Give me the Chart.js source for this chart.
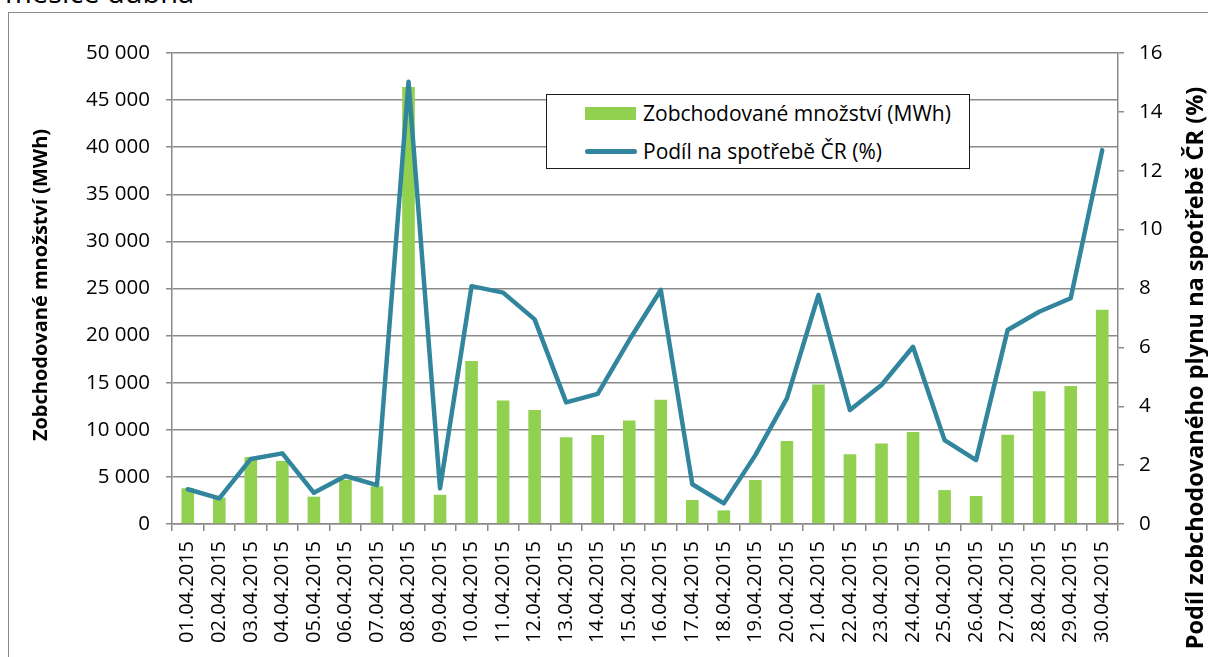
<!DOCTYPE html>
<html>
<head>
<meta charset="utf-8">
<script src="https://cdn.jsdelivr.net/npm/chart.js@4"></script>
<style>
  html, body { margin: 0; padding: 0; background: #fff; overflow: hidden; }
  #wrap { position: relative; width: 1208px; height: 657px; }
  #frame { position: absolute; left: 8px; top: 12px; width: 1300px; height: 800px; border: 1.5px solid #8a8a8a; box-sizing: border-box; }
  #caption { position: absolute; left: 5px; top: -23px; font: 29px/1 "Open Sans", sans-serif; color: #000; white-space: nowrap; }
  #legend { position: absolute; left: 546px; top: 94px; width: 424px; height: 75px; border: 1.5px solid #1a1a1a; box-sizing: border-box; background: #fff; font: 21px "Open Sans", sans-serif; color: #000; }
  .item { position: absolute; left: 38px; height: 28px; line-height: 28px; white-space: nowrap; }
  .item span { position: absolute; left: 58px; top: 0; }
  .bar { position: absolute; left: 0; top: 8px; width: 51px; height: 13px; background: #92D050; }
  .line { position: absolute; left: 0; top: 12px; width: 52px; height: 5px; border-radius: 3px; background: #31859C; }
  canvas { position: absolute; left: 0; top: 0; }
</style>
</head>
<body>
<div id="wrap">
  <div id="frame"></div>
  <div id="caption">měsíce dubna</div>
  <canvas id="chart" width="1208" height="657"></canvas>
  <div id="legend">
    <div class="item" style="top: 4px;"><div class="bar"></div><span>Zobchodované množství (MWh)</span></div>
    <div class="item" style="top: 42px;"><div class="line"></div><span>Podíl na spotřebě ČR (%)</span></div>
  </div>
</div>
<script>
// Days of April 2015
const days = ["01.04.2015", "02.04.2015", "03.04.2015", "04.04.2015", "05.04.2015", "06.04.2015",
  "07.04.2015", "08.04.2015", "09.04.2015", "10.04.2015", "11.04.2015", "12.04.2015", "13.04.2015",
  "14.04.2015", "15.04.2015", "16.04.2015", "17.04.2015", "18.04.2015", "19.04.2015", "20.04.2015",
  "21.04.2015", "22.04.2015", "23.04.2015", "24.04.2015", "25.04.2015", "26.04.2015", "27.04.2015",
  "28.04.2015", "29.04.2015", "30.04.2015"];

// Traded volume (MWh)
const tradedMWh = [3800, 2800, 7100, 6700, 2900, 4700, 4000, 46400, 3100, 17300,
  13100, 12100, 9200, 9450, 11000, 13200, 2550, 1450, 4670, 8800,
  14800, 7400, 8550, 9770, 3600, 2970, 9480, 14100, 14650, 22750];

// Share of Czech consumption (%)
const sharePct = [1.18, 0.87, 2.21, 2.40, 1.06, 1.63, 1.32, 15.02, 1.21, 8.08,
  7.86, 6.95, 4.13, 4.42, 6.25, 7.95, 1.35, 0.70, 2.34, 4.27,
  7.78, 3.87, 4.72, 6.02, 2.85, 2.17, 6.59, 7.21, 7.67, 12.7];

const leftTitle = "Zobchodované množství (MWh)";
const rightTitle = "Podíl zobchodovaného plynu na spotřebě ČR (%)";

const gridColor = "#8a8a8a";
const labelFont = { family: "'Open Sans', sans-serif", size: 20.5 };

// draw the rotated axis titles ourselves (both read bottom to top)
const axisTitles = {
  id: "axisTitles",
  afterDraw(chart) {
    const ctx = chart.ctx;
    const drawTitle = (text, x, y, size) => {
      ctx.save();
      ctx.fillStyle = "#000";
      ctx.font = "bold " + size + "px 'Open Sans', sans-serif";
      ctx.textAlign = "center";
      ctx.textBaseline = "middle";
      ctx.translate(x, y);
      ctx.rotate(-Math.PI / 2);
      ctx.fillText(text, 0, 0);
      ctx.restore();
    };
    drawTitle(leftTitle, 41, 285, 20);
    drawTitle(rightTitle, 1196, 368, 23.5);
  }
};

new Chart(document.getElementById("chart"), {
  data: {
    labels: days,
    datasets: [
      {
        type: "line",
        label: "Podíl na spotřebě ČR (%)",
        data: sharePct,
        yAxisID: "yRight",
        borderColor: "#31859C",
        borderWidth: 4.5,
        borderCapStyle: "round",
        borderJoinStyle: "round",
        pointRadius: 0,
        tension: 0,
        order: 0
      },
      {
        type: "bar",
        label: "Zobchodované množství (MWh)",
        data: tradedMWh,
        yAxisID: "yLeft",
        backgroundColor: "#92D050",
        barPercentage: 1,
        categoryPercentage: 0.4,
        order: 1
      }
    ]
  },
  options: {
    responsive: false,
    animation: false,
    layout: { padding: { top: 53, left: 0, right: 0, bottom: 0 } },
    plugins: {
      legend: { display: false },
      tooltip: { enabled: false }
    },
    scales: {
      x: {
        grid: { offset: true, drawOnChartArea: false, color: gridColor, lineWidth: 1.5, tickLength: 7 },
        border: { color: gridColor, width: 1.5 },
        ticks: {
          color: "#000",
          font: { family: "'Open Sans', sans-serif", size: 20 },
          minRotation: 90,
          maxRotation: 90,
          padding: 10,
          autoSkip: false
        },
        afterFit(scale) { scale.height = 133; }
      },
      yLeft: {
        position: "left",
        min: 0,
        max: 50000,
        grid: { color: gridColor, lineWidth: 1.5, tickLength: 6 },
        border: { color: gridColor, width: 1.5 },
        ticks: {
          stepSize: 5000,
          color: "#000",
          font: labelFont,
          padding: 16,
          callback: v => String(v).replace(/\B(?=(\d{3})+(?!\d))/g, " ")
        },
        afterFit(scale) { scale.width = 172; }
      },
      yRight: {
        position: "right",
        min: 0,
        max: 16,
        grid: { drawOnChartArea: false, color: gridColor, lineWidth: 1.5, tickLength: 6 },
        border: { color: gridColor, width: 1.5 },
        ticks: { stepSize: 2, color: "#000", font: labelFont, padding: 15 },
        afterFit(scale) { scale.width = 90; }
      }
    }
  },
  plugins: [axisTitles]
});
</script>
</body>
</html>
